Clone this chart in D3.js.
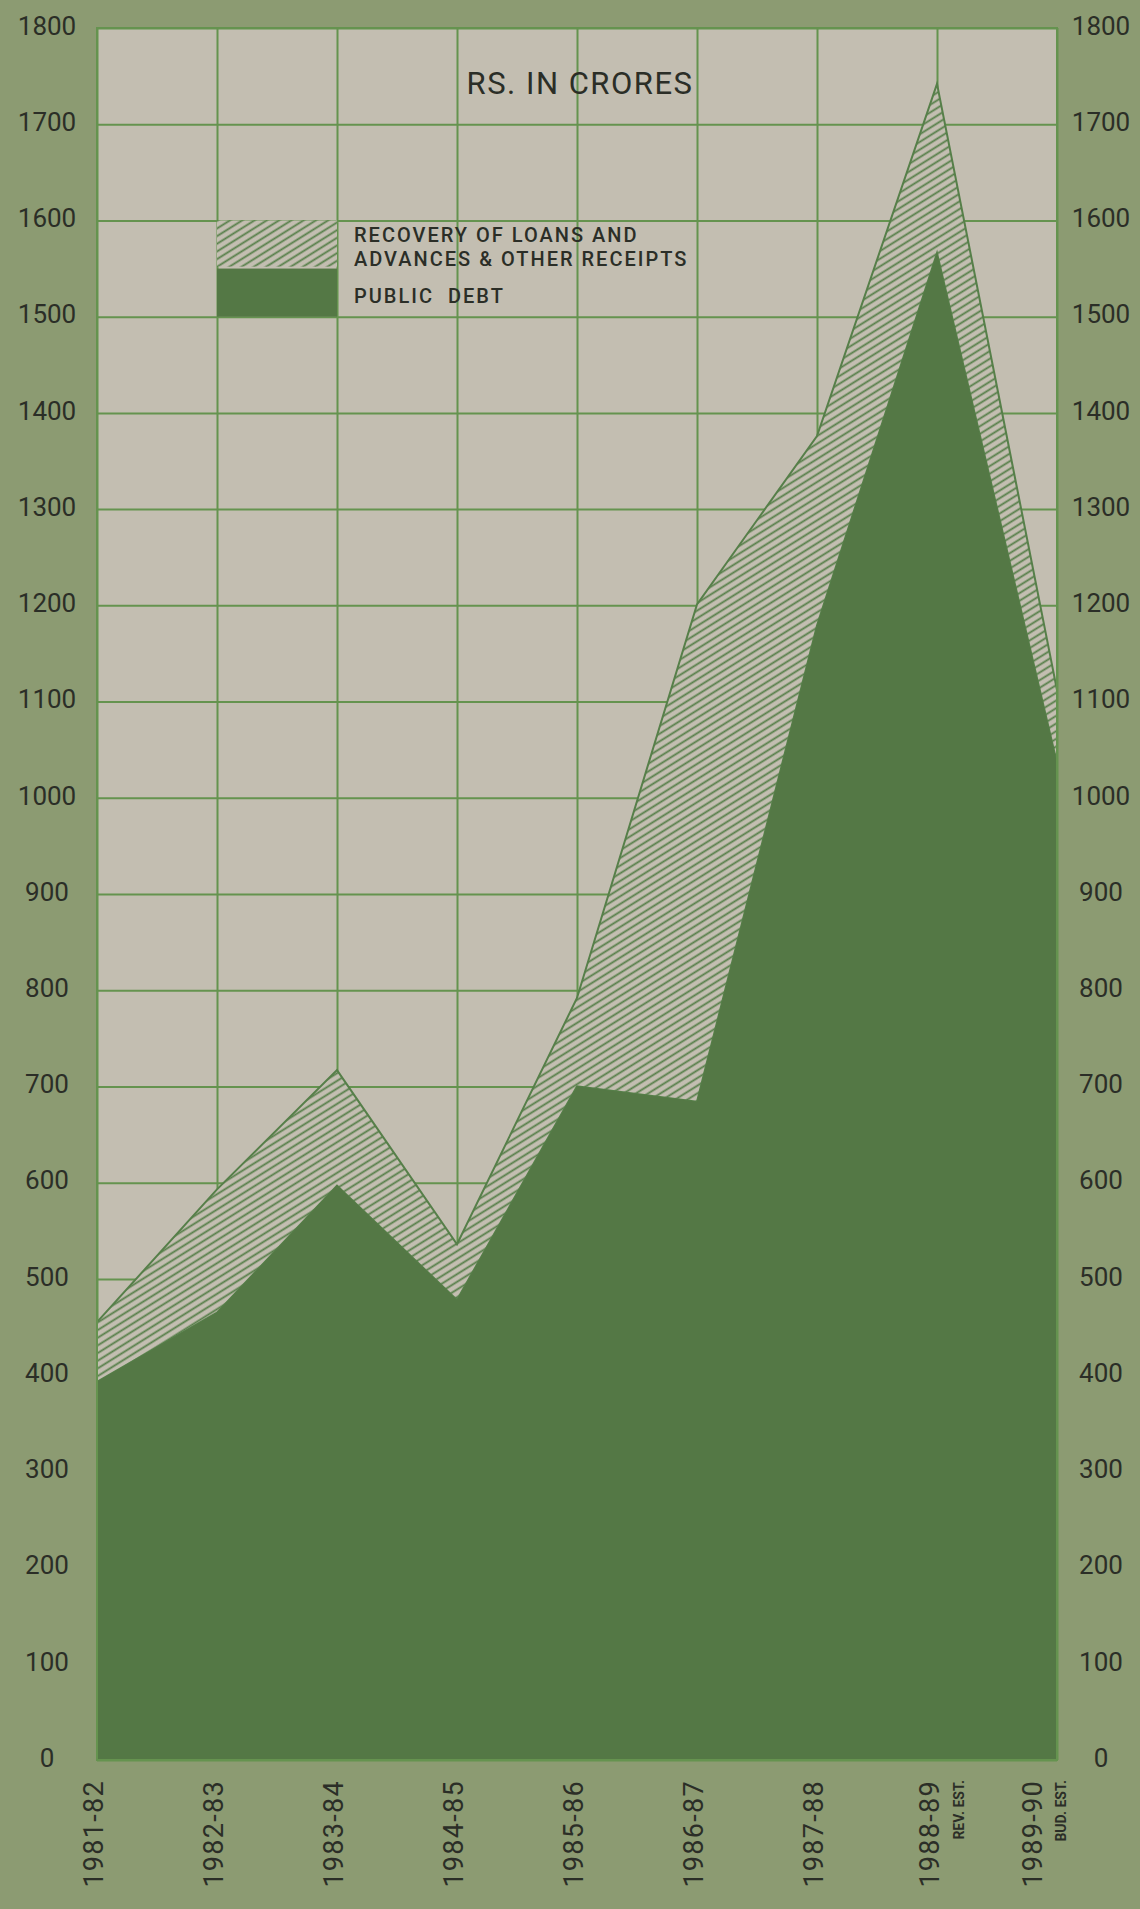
<!DOCTYPE html>
<html>
<head>
<meta charset="utf-8">
<script src="https://cdn.jsdelivr.net/npm/d3@7"></script>
<style>
  body { margin: 0; background: #8c9b72; }
  svg { display: block; }
  text { font-family: Roboto, "DejaVu Sans", sans-serif; fill: #2b2e27; }
</style>
</head>
<body>
<div id="chart"></div>
<script>
// Valores (Rs. em crores)
const years = ["1981-82", "1982-83", "1983-84", "1984-85", "1985-86", "1986-87", "1987-88", "1988-89", "1989-90"];
const yearNotes = ["", "", "", "", "", "", "", "REV. EST.", "BUD. EST."];
const publicDebt = [393, 465, 597, 478, 700, 684, 1179, 1566, 1036];
const recovery = [62, 128, 120, 58, 92, 517, 197, 176, 76];
const yTicks = [0, 100, 200, 300, 400, 500, 600, 700, 800, 900, 1000, 1100, 1200, 1300, 1400, 1500, 1600, 1700, 1800];
const recoveryLabel = ["RECOVERY OF LOANS AND", "ADVANCES & OTHER RECEIPTS"];
const debtLabel = "PUBLIC  DEBT";
const unitLabel = "RS. IN CRORES";

const width = 1140, height = 1909;
const plotLeft = 97, plotRight = 1057, plotTop = 28, plotBottom = 1760;

const colors = {
    plot: "#c3beb1",
    grid: "#65934f",
    debt: "#547845",
    hatch: "#567f49"
};

const svg = d3.select("#chart")
    .append("svg")
    .attr("width", width)
    .attr("height", height);

// padrão tracejado para a área "recovery"
const pattern = svg.append("defs")
    .append("pattern")
    .attr("id", "hatch")
    .attr("patternUnits", "userSpaceOnUse")
    .attr("width", 8)
    .attr("height", 6.5)
    .attr("patternTransform", "rotate(-32)");
pattern.append("rect")
    .attr("width", 8).attr("height", 6.5)
    .attr("fill", colors.plot);
pattern.append("line")
    .attr("x1", 0).attr("y1", 3.25)
    .attr("x2", 8).attr("y2", 3.25)
    .attr("stroke", colors.hatch)
    .attr("stroke-width", 1.8);

const x = d3.scalePoint().domain(years).range([plotLeft, plotRight]);
const y = d3.scaleLinear().domain([0, 1800]).range([plotBottom, plotTop]);

// fundo da área do gráfico
svg.append("rect")
    .attr("x", plotLeft).attr("y", plotTop)
    .attr("width", plotRight - plotLeft).attr("height", plotBottom - plotTop)
    .attr("fill", colors.plot);

// grelha horizontal
svg.append("g")
    .attr("transform", `translate(${plotLeft},0)`)
    .call(d3.axisLeft(y).tickValues(yTicks).tickSize(-(plotRight - plotLeft)).tickFormat(""))
    .call(g => g.select(".domain").remove())
    .call(g => g.selectAll("line").attr("stroke", colors.grid).attr("stroke-width", 2));

// grelha vertical
svg.append("g")
    .attr("transform", `translate(0,${plotBottom})`)
    .call(d3.axisBottom(x).tickSize(-(plotBottom - plotTop)).tickFormat(""))
    .call(g => g.select(".domain").remove())
    .call(g => g.selectAll("line").attr("stroke", colors.grid).attr("stroke-width", 2));

// áreas empilhadas
const rows = years.map((yr, i) => ({ year: yr, debt: publicDebt[i], recovery: recovery[i] }));
const stacked = d3.stack().keys(["debt", "recovery"])(rows);

const area = d3.area()
    .x(d => x(d.data.year))
    .y0(d => y(d[0]))
    .y1(d => y(d[1]));

svg.append("path")
    .datum(stacked[1])
    .attr("d", area)
    .attr("fill", "url(#hatch)")
    .attr("stroke", colors.hatch)
    .attr("stroke-width", 2);

svg.append("path")
    .datum(stacked[0])
    .attr("d", area)
    .attr("fill", colors.debt);

// contorno
svg.append("rect")
    .attr("x", plotLeft).attr("y", plotTop)
    .attr("width", plotRight - plotLeft).attr("height", plotBottom - plotTop)
    .attr("fill", "none")
    .attr("stroke", colors.grid)
    .attr("stroke-width", 2);

// eixos com os valores (esquerda e direita)
const styleTicks = (g, dx) => g.selectAll("text")
    .attr("x", dx)
    .attr("dy", "0.24em")
    .attr("text-anchor", "middle")
    .style("font-size", "26px")
    .style("font-family", "Roboto, sans-serif")
    .attr("fill", "#2b2e27");

svg.append("g")
    .attr("transform", `translate(${plotLeft},0)`)
    .call(d3.axisLeft(y).tickValues(yTicks).tickSize(0).tickFormat(d3.format("d")))
    .call(g => g.select(".domain").remove())
    .call(g => styleTicks(g, -50));

svg.append("g")
    .attr("transform", `translate(${plotRight},0)`)
    .call(d3.axisRight(y).tickValues(yTicks).tickSize(0).tickFormat(d3.format("d")))
    .call(g => g.select(".domain").remove())
    .call(g => styleTicks(g, 44));

// anos na base (texto rodado)
const last = years.length - 1;
svg.selectAll(".year")
    .data(years)
    .enter()
    .append("text")
    .attr("class", "year")
    .attr("transform", (d, i) => {
        let dx = -3;
        if (i === last - 1) dx = -7;
        if (i === last) dx = -24;
        return `translate(${x(d) + dx},${plotBottom + 20}) rotate(-90)`;
    })
    .attr("text-anchor", "end")
    .attr("dy", "0.35em")
    .attr("font-size", "27px")
    .attr("letter-spacing", "1.3px")
    .text(d => d);

const notes = yearNotes.map((n, i) => ({ note: n, year: years[i], i: i })).filter(d => d.note !== "");
svg.selectAll(".note")
    .data(notes)
    .enter()
    .append("text")
    .attr("class", "note")
    .attr("transform", d => {
        const dx = d.i === last ? 4 : 22;
        return `translate(${x(d.year) + dx},${plotBottom + 20}) rotate(-90)`;
    })
    .attr("text-anchor", "end")
    .attr("dy", "0.35em")
    .attr("font-size", "14px")
    .attr("font-weight", "bold")
    .text(d => d.note);

// título das unidades
svg.append("text")
    .attr("x", 580)
    .attr("y", 94)
    .attr("text-anchor", "middle")
    .attr("font-size", "31px")
    .attr("letter-spacing", "1.5px")
    .text(unitLabel);

// legenda
const lx0 = x(years[1]), lx1 = x(years[2]);
svg.append("rect")
    .attr("x", lx0).attr("y", y(1600))
    .attr("width", lx1 - lx0).attr("height", y(1552) - y(1600))
    .attr("fill", "url(#hatch)");
svg.append("rect")
    .attr("x", lx0).attr("y", y(1550))
    .attr("width", lx1 - lx0).attr("height", y(1500) - y(1550))
    .attr("fill", colors.debt);

svg.selectAll(".leg")
    .data(recoveryLabel)
    .enter()
    .append("text")
    .attr("class", "leg")
    .attr("x", lx1 + 17)
    .attr("y", (d, i) => y(1600) + 22 + i * 24)
    .attr("font-size", "20px")
    .attr("font-weight", 500)
    .attr("letter-spacing", "2px")
    .text(d => d);

svg.append("text")
    .attr("x", lx1 + 17)
    .attr("y", y(1600) + 83)
    .attr("font-size", "20px")
    .attr("font-weight", 500)
    .attr("letter-spacing", "2px")
    .style("white-space", "pre")
    .text(debtLabel);
</script>
</body>
</html>
